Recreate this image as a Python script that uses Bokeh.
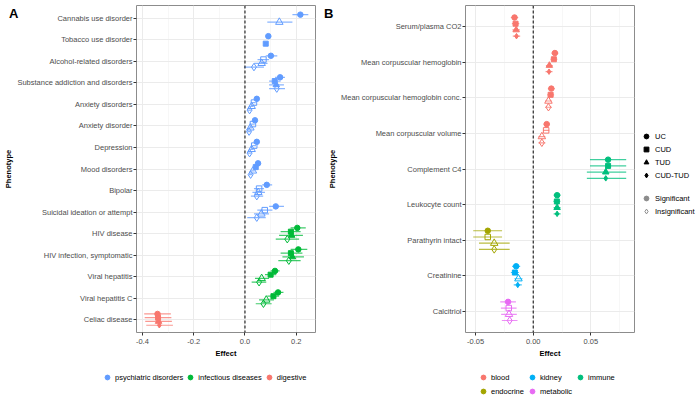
from bokeh.plotting import figure
from bokeh.models import (Range1d, FixedTicker, Span, Legend, LegendItem, Div,
                          ColumnDataSource)
from bokeh.layouts import row, column
from bokeh.embed import file_html
from bokeh.resources import INLINE

FONT = "Liberation Sans"
GROUPS = ["UC", "CUD", "TUD", "CUD-TUD"]

# ---------------- Panel A data ----------------
phenos_A = ["Cannabis use disorder", "Tobacco use disorder", "Alcohol-related disorders",
            "Substance addiction and disorders", "Anxiety disorders", "Anxiety disorder",
            "Depression", "Mood disorders", "Bipolar", "Suicidal ideation or attempt",
            "HIV disease", "HIV infection, symptomatic", "Viral hepatitis",
            "Viral hepatitis C", "Celiac disease"]
cat_A = ["psychiatric disorders"] * 10 + ["infectious diseases"] * 4 + ["digestive"]
cat_order_A = ["psychiatric disorders", "infectious diseases", "digestive"]
cat_colors_A = {"psychiatric disorders": "#619CFF", "infectious diseases": "#00BA38",
                "digestive": "#F8766D"}

uc_eff_A = [0.216, 0.091, 0.101, 0.137, 0.046, 0.039, 0.046, 0.051, 0.085, 0.120, 0.204, 0.208, 0.117, 0.129, -0.341]
uc_lo_A = [0.185, 0.083, 0.081, 0.117, 0.038, 0.032, 0.039, 0.044, 0.067, 0.094, 0.178, 0.178, 0.100, 0.111, -0.393]
uc_hi_A = [0.247, 0.099, 0.126, 0.156, 0.054, 0.046, 0.053, 0.058, 0.106, 0.152, 0.237, 0.243, 0.135, 0.150, -0.289]
uc_sig_A = [1, 1, 1, 1, 1, 1, 1, 1, 1, 1, 1, 1, 1, 1, 1]

cud_eff_A = [None, 0.081, 0.072, 0.116, 0.035, 0.031, 0.036, 0.042, 0.055, 0.077, 0.179, 0.179, 0.100, 0.111, -0.339]
cud_lo_A = [None, 0.074, 0.049, 0.094, 0.028, 0.024, 0.029, 0.035, 0.035, 0.048, 0.139, 0.139, 0.078, 0.087, -0.391]
cud_hi_A = [None, 0.088, 0.094, 0.139, 0.042, 0.038, 0.043, 0.049, 0.074, 0.107, 0.217, 0.224, 0.122, 0.133, -0.287]
cud_sig_A = [0, 1, 0, 1, 0, 0, 0, 1, 0, 0, 1, 1, 1, 1, 1]

tud_eff_A = [0.134, None, 0.065, 0.122, 0.026, 0.021, 0.026, 0.031, 0.052, 0.064, 0.182, 0.185, 0.065, 0.083, -0.337]
tud_lo_A = [0.087, None, 0.036, 0.094, 0.019, 0.014, 0.019, 0.024, 0.029, 0.035, 0.133, 0.146, 0.039, 0.055, -0.389]
tud_hi_A = [0.185, None, 0.088, 0.152, 0.033, 0.028, 0.033, 0.038, 0.078, 0.094, 0.226, 0.230, 0.094, 0.113, -0.285]
tud_sig_A = [0, 0, 0, 1, 0, 0, 0, 0, 0, 0, 1, 1, 0, 0, 1]

ct_eff_A = [None, None, 0.035, 0.124, 0.018, 0.016, 0.018, 0.022, 0.046, 0.046, 0.165, 0.171, 0.055, 0.072, -0.334]
ct_lo_A = [None, None, -0.004, 0.094, 0.011, 0.009, 0.011, 0.015, 0.023, 0.009, 0.120, 0.130, 0.026, 0.042, -0.385]
ct_hi_A = [None, None, 0.074, 0.156, 0.025, 0.023, 0.025, 0.029, 0.071, 0.081, 0.211, 0.217, 0.083, 0.104, -0.281]
ct_sig_A = [0, 0, 0, 0, 0, 0, 0, 0, 0, 0, 0, 0, 0, 0, 1]

xticks_A = [-0.4, -0.2, 0.0, 0.2]
xtick_labels_A = ["-0.4", "-0.2", "0.0", "0.2"]
xminor_A = [-0.3, -0.1, 0.1]

# ---------------- Panel B data ----------------
phenos_B = ["Serum/plasma CO2", "Mean corpuscular hemoglobin", "Mean corpuscular hemoglobin conc.",
            "Mean corpuscular volume", "Complement C4", "Leukocyte count", "Parathyrin intact",
            "Creatinine", "Calcitriol"]
cat_B = ["blood", "blood", "blood", "blood", "immune", "immune", "endocrine", "kidney", "metabolic"]
cat_order_B = ["blood", "kidney", "immune", "endocrine", "metabolic"]
cat_colors_B = {"blood": "#F8766D", "endocrine": "#A3A500", "immune": "#00BF7D",
                "kidney": "#00B0F6", "metabolic": "#E76BF3"}

uc_eff_B = [-0.0162, 0.0188, 0.0157, 0.0117, 0.0649, 0.0207, -0.0394, -0.0148, -0.0218]
uc_lo_B = [-0.0194, 0.0158, 0.0127, 0.0090, 0.0492, 0.0177, -0.0520, -0.0183, -0.0286]
uc_hi_B = [-0.0130, 0.0218, 0.0187, 0.0144, 0.0806, 0.0237, -0.0270, -0.0113, -0.0150]
uc_sig_B = [1, 1, 1, 1, 1, 1, 1, 1, 1]

cud_eff_B = [-0.0153, 0.0179, 0.0151, 0.0112, 0.0649, 0.0205, -0.0394, -0.0159, -0.0212]
cud_lo_B = [-0.0185, 0.0149, 0.0121, 0.0085, 0.0492, 0.0175, -0.0520, -0.0194, -0.0280]
cud_hi_B = [-0.0121, 0.0209, 0.0181, 0.0139, 0.0806, 0.0235, -0.0270, -0.0124, -0.0144]
cud_sig_B = [1, 1, 1, 0, 1, 1, 0, 1, 0]

tud_eff_B = [-0.0148, 0.0140, 0.0132, 0.0075, 0.0629, 0.0207, -0.0338, -0.0128, -0.0210]
tud_lo_B = [-0.0180, 0.0110, 0.0102, 0.0045, 0.0465, 0.0177, -0.0470, -0.0163, -0.0278]
tud_hi_B = [-0.0116, 0.0170, 0.0162, 0.0105, 0.0806, 0.0237, -0.0204, -0.0093, -0.0142]
tud_sig_B = [1, 1, 0, 0, 1, 1, 0, 0, 0]

ct_eff_B = [-0.0145, 0.0137, 0.0132, 0.0075, 0.0629, 0.0207, -0.0338, -0.0134, -0.0204]
ct_lo_B = [-0.0177, 0.0107, 0.0102, 0.0045, 0.0465, 0.0177, -0.0470, -0.0169, -0.0272]
ct_hi_B = [-0.0113, 0.0167, 0.0162, 0.0105, 0.0806, 0.0237, -0.0204, -0.0099, -0.0136]
ct_sig_B = [1, 1, 0, 0, 1, 1, 0, 1, 0]

xticks_B = [-0.05, 0.0, 0.05]
xtick_labels_B = ["-0.05", "0.00", "0.05"]
xminor_B = [-0.075, -0.025, 0.025, 0.075]

# ---------------- styling ----------------
MARK = {"UC": "circle", "CUD": "square", "TUD": "triangle", "CUD-TUD": "diamond"}
SIZE_SIG = {"UC": 5.5, "CUD": 5.0, "TUD": 6.5, "CUD-TUD": 5.5}
SIZE_INS = {"UC": 6.0, "CUD": 5.5, "TUD": 7.5, "CUD-TUD": 7.5}
DODGE = 0.7
HP = 360   # height of the plotting figures
HL = 40    # height of the legend strips


def make_panel(phenos, cats, colors, data, xr, xticks, xlabels, xminor,
               width, border_left, border_right):
    n = len(phenos)
    p = figure(width=width, height=HP, output_backend="svg", toolbar_location=None,
               x_range=Range1d(*xr), y_range=Range1d(0.4, n + 0.6),
               min_border_left=border_left, min_border_right=border_right,
               min_border_top=5, min_border_bottom=HP - 333)
    p.background_fill_color = "white"
    p.border_fill_color = "white"
    p.outline_line_color = "#8c8c8c"
    p.outline_line_width = 1

    p.xaxis.ticker = FixedTicker(ticks=xticks, minor_ticks=xminor)
    p.xaxis.major_label_overrides = {t: l for t, l in zip(xticks, xlabels)}
    p.yaxis.ticker = FixedTicker(ticks=list(range(1, n + 1)))
    p.yaxis.major_label_overrides = {n - i: ph for i, ph in enumerate(phenos)}
    for ax in (p.xaxis[0], p.yaxis[0]):
        ax.axis_line_color = None
        ax.major_tick_line_color = "#333333"
        ax.major_tick_out = 3
        ax.major_tick_in = 0
        ax.minor_tick_line_color = None
        ax.major_label_text_font = FONT
        ax.major_label_text_font_size = "7.5px"
        ax.major_label_text_color = "#4D4D4D"
        ax.axis_label_text_font = FONT
        ax.axis_label_text_font_size = "7.5px"
        ax.axis_label_text_font_style = "bold"
        ax.axis_label_text_color = "black"
    p.xaxis.axis_label = "Effect"
    p.yaxis.axis_label = "Phenotype"
    p.xaxis.major_label_standoff = 2
    p.xaxis.axis_label_standoff = 2
    p.yaxis.major_label_standoff = 1
    p.yaxis.axis_label_standoff = 1

    p.xgrid.grid_line_color = "#EBEBEB"
    p.xgrid.grid_line_width = 1
    p.xgrid.minor_grid_line_color = "#F2F2F2"
    p.xgrid.minor_grid_line_width = 0.6
    p.ygrid.grid_line_color = "#EBEBEB"
    p.ygrid.grid_line_width = 1

    p.add_layout(Span(location=0, dimension="height", line_color="black",
                      line_width=1, line_dash="3 2"))

    # points, dodged among the groups present in each row
    for i in range(n):
        present = [g for g in GROUPS if data[g][0][i] is not None]
        k = len(present)
        for j, g in enumerate(present):
            eff, lo, hi, sig = (data[g][0][i], data[g][1][i], data[g][2][i], data[g][3][i])
            yy = (n - i) + ((k - 1) / 2 - j) * DODGE / k
            col = colors[cats[i]]
            src = ColumnDataSource(dict(x=[eff], y=[yy], lo=[lo], hi=[hi]))
            p.segment(x0="lo", y0="y", x1="hi", y1="y", source=src,
                      line_color=col, line_width=1.2, line_alpha=0.75)
            if sig:
                p.scatter(x="x", y="y", source=src, marker=MARK[g], size=SIZE_SIG[g],
                          fill_color=col, line_color=col, line_width=1)
            else:
                p.scatter(x="x", y="y", source=src, marker=MARK[g], size=SIZE_INS[g],
                          fill_color=None, line_color=col, line_width=1)
    return p


def legend_fig(width, height):
    f = figure(width=width, height=height, output_backend="svg", toolbar_location=None,
               x_range=Range1d(0, 1), y_range=Range1d(0, 1),
               x_axis_location=None, y_axis_location=None,
               min_border_left=0, min_border_right=0, min_border_top=0, min_border_bottom=0)
    f.grid.visible = False
    f.outline_line_color = None
    f.background_fill_color = "white"
    f.border_fill_color = "white"
    return f


def key(f, marker, fill, line):
    # a single point outside the strip's range: only its legend key is visible
    return f.scatter(x=[-9], y=[-9], marker=marker, size=5, fill_color=fill, line_color=line,
                     line_width=1)


def legend_style(leg):
    leg.label_text_font = FONT
    leg.label_text_font_size = "7.5px"
    leg.label_text_color = "black"
    leg.border_line_color = None
    leg.background_fill_alpha = 0
    leg.padding = 0
    leg.margin = 0
    leg.glyph_width = 12
    leg.glyph_height = 12
    leg.label_height = 12
    leg.label_standoff = 2
    leg.label_text_baseline = "middle"


data_A = {"UC": (uc_eff_A, uc_lo_A, uc_hi_A, uc_sig_A),
          "CUD": (cud_eff_A, cud_lo_A, cud_hi_A, cud_sig_A),
          "TUD": (tud_eff_A, tud_lo_A, tud_hi_A, tud_sig_A),
          "CUD-TUD": (ct_eff_A, ct_lo_A, ct_hi_A, ct_sig_A)}
data_B = {"UC": (uc_eff_B, uc_lo_B, uc_hi_B, uc_sig_B),
          "CUD": (cud_eff_B, cud_lo_B, cud_hi_B, cud_sig_B),
          "TUD": (tud_eff_B, tud_lo_B, tud_hi_B, tud_sig_B),
          "CUD-TUD": (ct_eff_B, ct_lo_B, ct_hi_B, ct_sig_B)}

pA = make_panel(phenos_A, cat_A, cat_colors_A, data_A, (-0.423, 0.275),
                xticks_A, xtick_labels_A, xminor_A, 325, 136, 10)
pB = make_panel(phenos_B, cat_B, cat_colors_B, data_B, (-0.0587, 0.0878),
                xticks_B, xtick_labels_B, xminor_B, 311, 134, 2)

# legend strip A (categories)
fA = legend_fig(325, HL)
itemsA = [LegendItem(label=c, renderers=[key(fA, "circle", cat_colors_A[c], cat_colors_A[c])])
          for c in cat_order_A]
legA = Legend(items=itemsA, orientation="horizontal", location=(101, 17), spacing=1)
legend_style(legA)
fA.add_layout(legA)

# legend strip B (categories)
fB = legend_fig(375, HL)
itemsB = [LegendItem(label=c, renderers=[key(fB, "circle", cat_colors_B[c], cat_colors_B[c])])
          for c in cat_order_B]
legB = Legend(items=itemsB, orientation="horizontal", ncols=3, location=(152, 3), spacing=2)
legend_style(legB)
fB.add_layout(legB)

# legend column at right of B (shapes and significance); its frame is aligned with pB's
fS = legend_fig(64, HP)
itemsS = [LegendItem(label=g, renderers=[key(fS, MARK[g], "black", "black")]) for g in GROUPS]
legS = Legend(items=itemsS, orientation="vertical", location=(4, 151), spacing=1)
legend_style(legS)
legS.label_standoff = 3
fS.add_layout(legS)

legG = Legend(items=[LegendItem(label="Significant",
                                renderers=[key(fS, "circle", "#8c8c8c", "#8c8c8c")]),
                     LegendItem(label="Insignificant",
                                renderers=[key(fS, "diamond", None, "#8c8c8c")])],
              orientation="vertical", location=(4, 115), spacing=1)
legend_style(legG)
legG.label_standoff = 3
fS.add_layout(legG)

title_style = {"position": "absolute", "font-family": FONT, "font-size": "13px",
               "font-weight": "bold", "color": "black"}
divA = Div(text="A", styles=dict(title_style, left="4px", top="0px"))
divB = Div(text="B", styles=dict(title_style, left="319px", top="0px"))

layout = row(column(row(pA), fA), column(row(pB, fS), fB), divA, divB)
open("out.html", "w").write(file_html(layout, INLINE))
